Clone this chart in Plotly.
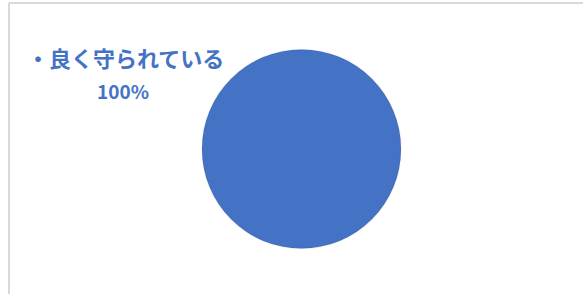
import plotly.graph_objects as go

categories = ["良く守られている"]
values = [100]
percent_labels = ["100%"]

W, H = 583, 294
blue = "#4472C4"
font_family = "Noto Sans CJK JP"

fig = go.Figure()
fig.add_trace(go.Pie(
    labels=categories,
    values=values,
    marker=dict(colors=[blue], line=dict(color="rgba(0,0,0,0.06)", width=1.5)),
    textinfo="none",
    hoverinfo="label+percent",
    sort=False,
    showlegend=False,
    domain=dict(x=[202 / W, 401 / W], y=[1 - 249 / H, 1 - 49 / H]),
))

# data label (category line + percentage line)
fig.add_annotation(
    x=125 / W, y=1 - 57 / H, xref="paper", yref="paper",
    xanchor="center", yanchor="middle",
    text=f"・{categories[0]}",
    showarrow=False,
    font=dict(family=font_family, size=22, color=blue, weight="bold"),
)
fig.add_annotation(
    x=123 / W, y=1 - 90 / H, xref="paper", yref="paper",
    xanchor="center", yanchor="middle",
    text=percent_labels[0],
    showarrow=False,
    font=dict(family=font_family, size=19, color=blue, weight="bold"),
)

# chart frame (partially visible)
fig.add_shape(type="line", xref="paper", yref="paper",
              x0=9 / W, x1=1, y0=1 - 3 / H, y1=1 - 3 / H,
              line=dict(color="#d9d9d9", width=2))
fig.add_shape(type="line", xref="paper", yref="paper",
              x0=9 / W, x1=9 / W, y0=0, y1=1 - 3 / H,
              line=dict(color="#d9d9d9", width=2))

fig.update_layout(
    width=W, height=H,
    margin=dict(l=0, r=0, t=0, b=0),
    paper_bgcolor="white", plot_bgcolor="white",
)

fig.write_html("out.html", config={"displayModeBar": False},
               post_script="document.body.style.margin='0';")
